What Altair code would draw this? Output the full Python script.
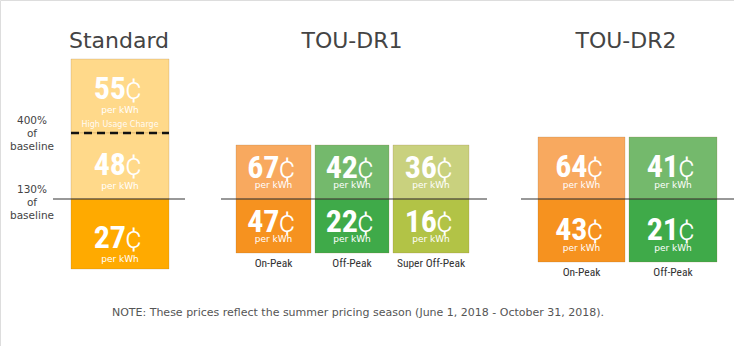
import altair as alt
import pandas as pd

# ---------------- data ----------------
plans = ["Standard", "TOU-DR1", "TOU-DR2"]
standard_tiers = ["High Usage Charge", "130%-400% of baseline", "Up to 130% of baseline"]
standard_prices = [55, 48, 27]
dr1_periods = ["On-Peak", "Off-Peak", "Super Off-Peak"]
dr1_above = [67, 42, 36]
dr1_base = [47, 22, 16]
dr2_periods = ["On-Peak", "Off-Peak"]
dr2_above = [64, 41]
dr2_base = [43, 21]
threshold_labels = [["400%", "of", "baseline"], ["130%", "of", "baseline"]]
note = "NOTE: These prices reflect the summer pricing season (June 1, 2018 - October 31, 2018)."

# ---------------- layout (pixels) ----------------
W, H = 734, 346
title_y = 48
std_cols = [(71, 169)]
std_rows = [59, 133, 199, 269]
dr1_cols = [(236, 311), (315, 389), (393, 469)]
dr1_rows = [145, 199, 253]
dr2_cols = [(538, 625), (629, 717)]
dr2_rows = [137, 199, 262]
title_x = [119, 352, 626]
line_spans = [(53, 185), (221, 487), (521, 734)]
line_y = 199
dash_y = 133
thr_x = 32
thr_y = [(121, 134, 147), (190, 203, 216)]

color_std_light = "#FFD98A"
color_std_base = "#FFAA00"
period_colors = {
    "On-Peak": ("#F8A95F", "#F6921F"),
    "Off-Peak": ("#74B96C", "#3FAA49"),
    "Super Off-Peak": ("#C9D17E", "#B2C346"),
}

boxes = []
# Standard
std_num_off = [40, 42, 49]
for i, (tier, p) in enumerate(zip(standard_tiers, standard_prices)):
    x0, x1 = std_cols[0]
    y0, y1 = std_rows[i], std_rows[i + 1]
    boxes.append(dict(plan="Standard", period=tier, price=p, x0=x0, x1=x1, y0=y0, y1=y1,
                      color=color_std_light if i < 2 else color_std_base,
                      num_y=y0 + std_num_off[i], unit_y=y0 + std_num_off[i] + 14))
# TOU-DR1
for j, per in enumerate(dr1_periods):
    x0, x1 = dr1_cols[j]
    for k, p in enumerate([dr1_above[j], dr1_base[j]]):
        y0, y1 = dr1_rows[k], dr1_rows[k + 1]
        boxes.append(dict(plan="TOU-DR1", period=per, price=p, x0=x0, x1=x1, y0=y0, y1=y1,
                          color=period_colors[per][k], num_y=y0 + 33, unit_y=y0 + 43))
# TOU-DR2
for j, per in enumerate(dr2_periods):
    x0, x1 = dr2_cols[j]
    for k, p in enumerate([dr2_above[j], dr2_base[j]]):
        y0, y1 = dr2_rows[k], dr2_rows[k + 1]
        boxes.append(dict(plan="TOU-DR2", period=per, price=p, x0=x0, x1=x1, y0=y0, y1=y1,
                          color=period_colors[per][k], num_y=y0 + 40 + k, unit_y=y0 + 51 + k))
bdf = pd.DataFrame(boxes)
bdf["cx"] = (bdf.x0 + bdf.x1) / 2
bdf["num"] = bdf.price.astype(str)
bdf["unit"] = "per kWh"
bdf["cent"] = "¢"

xs = alt.Scale(domain=[0, W], range=[0, W], nice=False, zero=False)
ys = alt.Scale(domain=[0, H], range=[0, H], nice=False, zero=False)

def X(f):
    return alt.X(f, type="quantitative", scale=xs, axis=None)

def Y(f):
    return alt.Y(f, type="quantitative", scale=ys, axis=None)

base = alt.Chart(bdf)
rects = base.mark_rect(strokeWidth=1, strokeOpacity=0.2, stroke="#8a6a30").encode(
    x=X("x0"), x2="x1", y=Y("y0"), y2="y1",
    color=alt.Color("color:N", scale=None))

NUMFONT = "Liberation Sans Narrow, Roboto Condensed, Arial Narrow, sans-serif"
nums = base.mark_text(font=NUMFONT, fontWeight="bold", fontSize=32, color="white",
                      align="right", baseline="alphabetic", dx=6).encode(
    x=X("cx"), y=Y("num_y"), text="num:N")
cents = base.mark_text(font="Roboto", fontWeight=300, fontSize=31, color="white",
                       align="left", baseline="alphabetic", dx=5).encode(
    x=X("cx"), y=Y("num_y"), text="cent:N")
units = base.mark_text(font="DejaVu Sans", fontSize=9, color="white",
                       align="center", baseline="alphabetic").encode(
    x=X("cx"), y=Y("unit_y"), text="unit:N")

hu = bdf[bdf.period == "High Usage Charge"].copy()
hu["hy"] = hu.y0 + 68
hu_text = alt.Chart(hu).mark_text(font="DejaVu Sans", fontSize=8, color="white", opacity=0.9,
                                  align="center", baseline="alphabetic").encode(
    x=X("cx"), y=Y("hy"), text="period:N")

# period labels under TOU columns
lab = bdf[bdf.plan != "Standard"].groupby(["plan", "period"], as_index=False).agg(
    cx=("cx", "first"), y1=("y1", "max"))
lab["ly"] = lab.y1 + 14
labels = alt.Chart(lab).mark_text(font=NUMFONT, fontSize=11.5, color="#333333",
                                  align="center", baseline="alphabetic").encode(
    x=X("cx"), y=Y("ly"), text="period:N")

# titles
tdf = pd.DataFrame({"plan": plans, "x": title_x, "y": [title_y] * 3})
titles = alt.Chart(tdf).mark_text(font="DejaVu Sans", fontSize=22, color="#444444",
                                  align="center", baseline="alphabetic").encode(
    x=X("x"), y=Y("y"), text="plan:N")

# baseline lines
ldf = pd.DataFrame({"x0": [s[0] for s in line_spans], "x1": [s[1] for s in line_spans],
                    "y": [line_y] * 3})
lines = alt.Chart(ldf).mark_rule(color="#333333", strokeWidth=1).encode(
    x=X("x0"), x2="x1", y=Y("y"))

ddf = pd.DataFrame({"x0": [std_cols[0][0]], "x1": [std_cols[0][1]], "y": [dash_y]})
dash = alt.Chart(ddf).mark_rule(color="#111111", strokeWidth=2.5, strokeDash=[8, 5]).encode(
    x=X("x0"), x2="x1", y=Y("y"))

# threshold labels
rows = []
for lines_txt, ys_ in zip(threshold_labels, thr_y):
    for t, yy in zip(lines_txt, ys_):
        rows.append(dict(t=t, x=thr_x, y=yy))
thdf = pd.DataFrame(rows)
thr = alt.Chart(thdf).mark_text(font="DejaVu Sans", fontSize=10.5, color="#444444",
                                align="center", baseline="middle").encode(
    x=X("x"), y=Y("y"), text="t:N")

ndf = pd.DataFrame({"t": [note], "x": [358], "y": [313]})
notes = alt.Chart(ndf).mark_text(font="DejaVu Sans", fontSize=11, color="#555555",
                                 align="center", baseline="middle").encode(
    x=X("x"), y=Y("y"), text="t:N")

chart = alt.layer(rects, lines, dash, nums, cents, units, hu_text, labels, titles, thr, notes).properties(
    width=W, height=H, padding=0, autosize=alt.AutoSizeParams(type="none")
).configure_view(stroke=None).configure(background="white")

chart.save("out.html", embed_options={"renderer": "svg", "actions": False})
